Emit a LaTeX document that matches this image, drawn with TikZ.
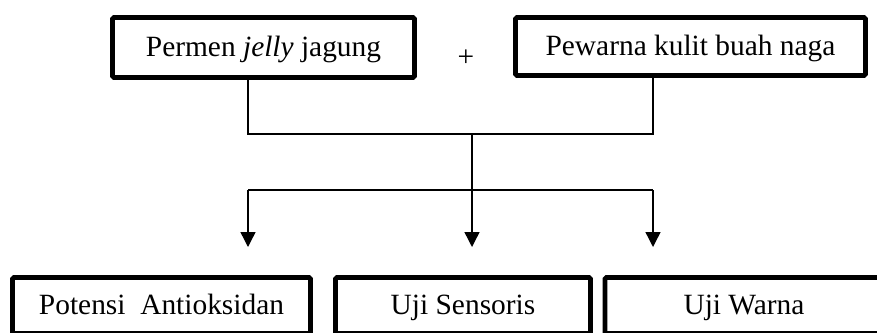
\documentclass[tikz,border=0pt]{standalone}
\usepackage{fontspec}
\setmainfont{Liberation Serif}
\usetikzlibrary{arrows.meta}
\begin{document}
\begin{tikzpicture}[x=1pt,y=-1pt,
  box/.style={draw, line width=4.8pt, rounded corners=1.5pt, inner sep=0pt,
    text height=21pt, text depth=4pt,
    font=\fontsize{29.4}{34}\selectfont},
  conn/.style={line width=1.4pt},
  arr/.style={conn, -{Triangle[width=15pt,length=15pt]}}]
\useasboundingbox (0,0) rectangle (877,332);
\clip (0,0) rectangle (877,332);
% top boxes
\node[box, minimum width=302pt, minimum height=60pt] (tl) at (263.5,47.5) {Permen \textit{jelly} jagung};
\node[box, minimum width=350pt, minimum height=58pt] (tr) at (690.5,46.5) {Pewarna kulit buah naga};
\node[inner sep=0pt, font=\fontsize{29.4}{34}\selectfont] (plus) at (466,58) {+};
% junction coordinates
\coordinate (j) at (472,134);
\coordinate (a1) at (248,190);
\coordinate (a2) at (472,190);
\coordinate (a3) at (653,190);
\coordinate (t1) at (248,247);
\coordinate (t2) at (472,247);
\coordinate (t3) at (653,247);
% bottom boxes
\node[box, minimum width=298pt, minimum height=56pt] (b1) at (161.5,305.5) {Potensi\ \ Antioksidan};
\node[box, minimum width=255pt, minimum height=56pt] (b2) at (463,305.5) {Uji Sensoris};
\node[box, minimum width=278pt, minimum height=56pt] (b3) at (744,305.5) {Uji Warna};
% connectors
\draw[conn] (tl.south -| a1) |- (j -| a3) -- (tr.south -| a3);
\draw[arr] (j) -- (t2);
\draw[conn] (a1) -- (a3);
\draw[arr] (a1) -- (t1);
\draw[arr] (a3) -- (t3);
\end{tikzpicture}
\end{document}
